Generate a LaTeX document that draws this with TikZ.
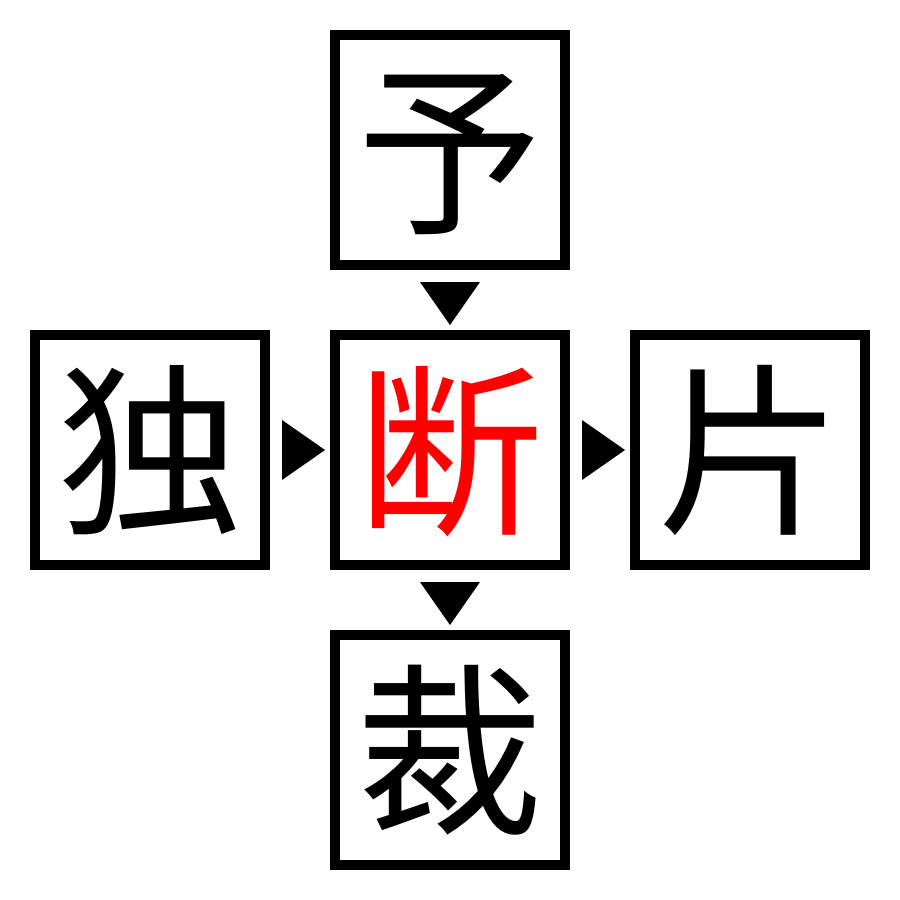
\documentclass[tikz,border=0pt]{standalone}
\usepackage{fontspec}
\newfontfamily\cjk{Noto Sans CJK JP}
\begin{document}
\begin{tikzpicture}[x=1pt,y=-1pt,
  kbox/.style={draw=black,line width=10pt,minimum size=230pt,inner sep=0pt,anchor=center},
  kchar/.style={font=\cjk\fontsize{185}{185}\selectfont,inner sep=0pt,anchor=base},
  tri/.style={fill=black,draw=none}]
\useasboundingbox (0,0) rectangle (900,900);
\fill[white] (0,0) rectangle (900,900);
\node[kbox] (top) at (450,150) {};
\node[kbox] (mid) at (450,450) {};
\node[kbox] (left) at (150,450) {};
\node[kbox] (right) at (750,450) {};
\node[kbox] (bot) at (450,750) {};
\node[kchar] (ctop) at ([yshift=-0.38*185pt]top.center) {予};
\node[kchar,text=red] (cmid) at ([yshift=-0.38*185pt]mid.center) {断};
\node[kchar] (cleft) at ([yshift=-0.38*185pt]left.center) {独};
\node[kchar] (cright) at ([yshift=-0.38*185pt]right.center) {片};
\node[kchar] (cbot) at ([yshift=-0.38*185pt]bot.center) {裁};
% triangles
\fill[tri] (420,282) -- (480,282) -- (450,325) -- cycle;
\fill[tri] (420,582) -- (480,582) -- (450,625) -- cycle;
\fill[tri] (282,420) -- (282,480) -- (325,450) -- cycle;
\fill[tri] (582,420) -- (582,480) -- (625,450) -- cycle;
\end{tikzpicture}
\end{document}
